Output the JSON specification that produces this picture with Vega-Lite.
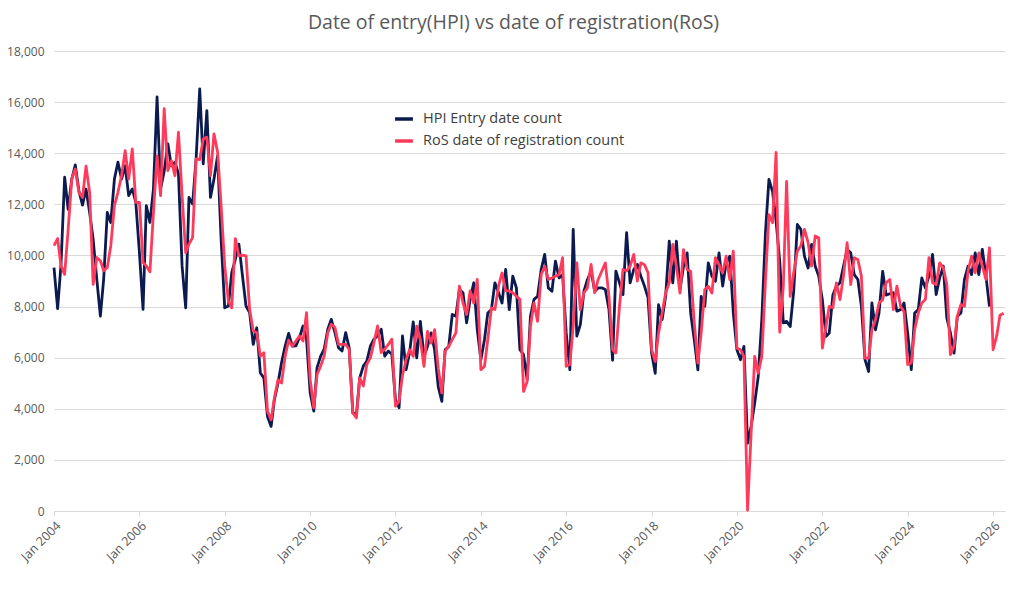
{
  "$schema": "https://vega.github.io/schema/vega-lite/v6.json",
  "width": 951,
  "height": 460,
  "autosize": {"type": "none"},
  "padding": {"left": 54, "top": 51, "right": 22, "bottom": 85},
  "background": "white",
  "config": {"font": "Open Sans", "view": {"stroke": null}},
  "title": {
    "text": "Date of entry(HPI) vs date of registration(RoS)",
    "fontSize": 19.5,
    "fontWeight": "normal",
    "color": "#595959",
    "anchor": "middle",
    "dx": -16,
    "offset": 12
  },
  "data": {
    "values": [
      {"month": "2004-01", "hpi": 9525, "ros": 10380},
      {"month": "2004-02", "hpi": 7916, "ros": 10660},
      {"month": "2004-03", "hpi": 9650, "ros": 9590},
      {"month": "2004-04", "hpi": 13060, "ros": 9260},
      {"month": "2004-05", "hpi": 11800, "ros": 11000},
      {"month": "2004-06", "hpi": 12990, "ros": 13000},
      {"month": "2004-07", "hpi": 13540, "ros": 13380},
      {"month": "2004-08", "hpi": 12530, "ros": 12470},
      {"month": "2004-09", "hpi": 11970, "ros": 12270},
      {"month": "2004-10", "hpi": 12600, "ros": 13490},
      {"month": "2004-11", "hpi": 11680, "ros": 12470},
      {"month": "2004-12", "hpi": 10640, "ros": 8870},
      {"month": "2005-01", "hpi": 9070, "ros": 9920},
      {"month": "2005-02", "hpi": 7630, "ros": 9790},
      {"month": "2005-03", "hpi": 9070, "ros": 9400},
      {"month": "2005-04", "hpi": 11680, "ros": 9530},
      {"month": "2005-05", "hpi": 11290, "ros": 10380},
      {"month": "2005-06", "hpi": 12990, "ros": 11950},
      {"month": "2005-07", "hpi": 13650, "ros": 12470},
      {"month": "2005-08", "hpi": 12990, "ros": 13120},
      {"month": "2005-09", "hpi": 13510, "ros": 14100},
      {"month": "2005-10", "hpi": 12340, "ros": 12990},
      {"month": "2005-11", "hpi": 12600, "ros": 14170},
      {"month": "2005-12", "hpi": 12080, "ros": 12080},
      {"month": "2006-01", "hpi": 10110, "ros": 12080},
      {"month": "2006-02", "hpi": 7890, "ros": 9720},
      {"month": "2006-03", "hpi": 11950, "ros": 9590},
      {"month": "2006-04", "hpi": 11290, "ros": 9360},
      {"month": "2006-05", "hpi": 12600, "ros": 11680},
      {"month": "2006-06", "hpi": 16200, "ros": 13900},
      {"month": "2006-07", "hpi": 12600, "ros": 12340},
      {"month": "2006-08", "hpi": 13300, "ros": 15740},
      {"month": "2006-09", "hpi": 14370, "ros": 13320},
      {"month": "2006-10", "hpi": 13510, "ros": 13710},
      {"month": "2006-11", "hpi": 13650, "ros": 13120},
      {"month": "2006-12", "hpi": 13190, "ros": 14820},
      {"month": "2007-01", "hpi": 9590, "ros": 12340},
      {"month": "2007-02", "hpi": 7950, "ros": 10110},
      {"month": "2007-03", "hpi": 12270, "ros": 10440},
      {"month": "2007-04", "hpi": 12010, "ros": 10700},
      {"month": "2007-05", "hpi": 13780, "ros": 13780},
      {"month": "2007-06", "hpi": 16520, "ros": 13750},
      {"month": "2007-07", "hpi": 13580, "ros": 14560},
      {"month": "2007-08", "hpi": 15670, "ros": 14630},
      {"month": "2007-09", "hpi": 12270, "ros": 13120},
      {"month": "2007-10", "hpi": 12990, "ros": 14760},
      {"month": "2007-11", "hpi": 13900, "ros": 14040},
      {"month": "2007-12", "hpi": 10640, "ros": 11950},
      {"month": "2008-01", "hpi": 7950, "ros": 9590},
      {"month": "2008-02", "hpi": 8020, "ros": 8220},
      {"month": "2008-03", "hpi": 9330, "ros": 7950},
      {"month": "2008-04", "hpi": 9850, "ros": 10660},
      {"month": "2008-05", "hpi": 10440, "ros": 9980},
      {"month": "2008-06", "hpi": 9200, "ros": 10010},
      {"month": "2008-07", "hpi": 8020, "ros": 9980},
      {"month": "2008-08", "hpi": 7760, "ros": 7890},
      {"month": "2008-09", "hpi": 6520, "ros": 7040},
      {"month": "2008-10", "hpi": 7170, "ros": 6980},
      {"month": "2008-11", "hpi": 5400, "ros": 6060},
      {"month": "2008-12", "hpi": 5210, "ros": 6190},
      {"month": "2009-01", "hpi": 3700, "ros": 3900},
      {"month": "2009-02", "hpi": 3310, "ros": 3570},
      {"month": "2009-03", "hpi": 4360, "ros": 4420},
      {"month": "2009-04", "hpi": 5010, "ros": 5140},
      {"month": "2009-05", "hpi": 5800, "ros": 5010},
      {"month": "2009-06", "hpi": 6450, "ros": 6060},
      {"month": "2009-07", "hpi": 6950, "ros": 6680},
      {"month": "2009-08", "hpi": 6450, "ros": 6450},
      {"month": "2009-09", "hpi": 6460, "ros": 6650},
      {"month": "2009-10", "hpi": 6780, "ros": 6850},
      {"month": "2009-11", "hpi": 7240, "ros": 6650},
      {"month": "2009-12", "hpi": 6720, "ros": 7760},
      {"month": "2010-01", "hpi": 4630, "ros": 5150},
      {"month": "2010-02", "hpi": 3910, "ros": 4040},
      {"month": "2010-03", "hpi": 5610, "ros": 5340},
      {"month": "2010-04", "hpi": 6060, "ros": 5670},
      {"month": "2010-05", "hpi": 6330, "ros": 6060},
      {"month": "2010-06", "hpi": 7110, "ros": 6980},
      {"month": "2010-07", "hpi": 7500, "ros": 7310},
      {"month": "2010-08", "hpi": 6980, "ros": 7180},
      {"month": "2010-09", "hpi": 6390, "ros": 6520},
      {"month": "2010-10", "hpi": 6260, "ros": 6520},
      {"month": "2010-11", "hpi": 6980, "ros": 6520},
      {"month": "2010-12", "hpi": 6390, "ros": 6330},
      {"month": "2011-01", "hpi": 3840, "ros": 3840},
      {"month": "2011-02", "hpi": 3770, "ros": 3640},
      {"month": "2011-03", "hpi": 5210, "ros": 5210},
      {"month": "2011-04", "hpi": 5670, "ros": 4890},
      {"month": "2011-05", "hpi": 5870, "ros": 5740},
      {"month": "2011-06", "hpi": 6460, "ros": 6000},
      {"month": "2011-07", "hpi": 6720, "ros": 6590},
      {"month": "2011-08", "hpi": 6850, "ros": 7240},
      {"month": "2011-09", "hpi": 7110, "ros": 6200},
      {"month": "2011-10", "hpi": 6060, "ros": 6330},
      {"month": "2011-11", "hpi": 6260, "ros": 6520},
      {"month": "2011-12", "hpi": 6130, "ros": 6720},
      {"month": "2012-01", "hpi": 4360, "ros": 4100},
      {"month": "2012-02", "hpi": 4040, "ros": 4300},
      {"month": "2012-03", "hpi": 6850, "ros": 5300},
      {"month": "2012-04", "hpi": 5530, "ros": 5920},
      {"month": "2012-05", "hpi": 6200, "ros": 6310},
      {"month": "2012-06", "hpi": 7400, "ros": 6050},
      {"month": "2012-07", "hpi": 5990, "ros": 7230},
      {"month": "2012-08", "hpi": 7420, "ros": 6710},
      {"month": "2012-09", "hpi": 6050, "ros": 5660},
      {"month": "2012-10", "hpi": 6440, "ros": 7030},
      {"month": "2012-11", "hpi": 6970, "ros": 6570},
      {"month": "2012-12", "hpi": 6310, "ros": 7100},
      {"month": "2013-01", "hpi": 4870, "ros": 5590},
      {"month": "2013-02", "hpi": 4290, "ros": 4620},
      {"month": "2013-03", "hpi": 6310, "ros": 6250},
      {"month": "2013-04", "hpi": 6440, "ros": 6440},
      {"month": "2013-05", "hpi": 7690, "ros": 6710},
      {"month": "2013-06", "hpi": 7620, "ros": 6970},
      {"month": "2013-07", "hpi": 8670, "ros": 8800},
      {"month": "2013-08", "hpi": 8540, "ros": 8140},
      {"month": "2013-09", "hpi": 7360, "ros": 7690},
      {"month": "2013-10", "hpi": 8280, "ros": 8610},
      {"month": "2013-11", "hpi": 8930, "ros": 8140},
      {"month": "2013-12", "hpi": 7100, "ros": 9060},
      {"month": "2014-01", "hpi": 5920, "ros": 5530},
      {"month": "2014-02", "hpi": 6710, "ros": 5660},
      {"month": "2014-03", "hpi": 7750, "ros": 6710},
      {"month": "2014-04", "hpi": 7880, "ros": 7950},
      {"month": "2014-05", "hpi": 8930, "ros": 7880},
      {"month": "2014-06", "hpi": 8540, "ros": 8800},
      {"month": "2014-07", "hpi": 8140, "ros": 9320},
      {"month": "2014-08", "hpi": 9450, "ros": 8610},
      {"month": "2014-09", "hpi": 7880, "ros": 8610},
      {"month": "2014-10", "hpi": 9190, "ros": 8540},
      {"month": "2014-11", "hpi": 8730, "ros": 8400},
      {"month": "2014-12", "hpi": 6310, "ros": 8280},
      {"month": "2015-01", "hpi": 6120, "ros": 4680},
      {"month": "2015-02", "hpi": 5140, "ros": 5070},
      {"month": "2015-03", "hpi": 7620, "ros": 7230},
      {"month": "2015-04", "hpi": 8280, "ros": 8140},
      {"month": "2015-05", "hpi": 8400, "ros": 7420},
      {"month": "2015-06", "hpi": 9450, "ros": 9250},
      {"month": "2015-07", "hpi": 10040, "ros": 9580},
      {"month": "2015-08", "hpi": 8730, "ros": 9060},
      {"month": "2015-09", "hpi": 8600, "ros": 9120},
      {"month": "2015-10", "hpi": 9780, "ros": 9190},
      {"month": "2015-11", "hpi": 9120, "ros": 9250},
      {"month": "2015-12", "hpi": 9250, "ros": 9910},
      {"month": "2016-01", "hpi": 6970, "ros": 5660},
      {"month": "2016-02", "hpi": 5530, "ros": 5730},
      {"month": "2016-03", "hpi": 11020, "ros": 7230},
      {"month": "2016-04", "hpi": 6840, "ros": 9710},
      {"month": "2016-05", "hpi": 7290, "ros": 7880},
      {"month": "2016-06", "hpi": 8600, "ros": 8540},
      {"month": "2016-07", "hpi": 9060, "ros": 8730},
      {"month": "2016-08", "hpi": 9390, "ros": 9650},
      {"month": "2016-09", "hpi": 8600, "ros": 8540},
      {"month": "2016-10", "hpi": 8730, "ros": 9060},
      {"month": "2016-11", "hpi": 8730, "ros": 9390},
      {"month": "2016-12", "hpi": 8670, "ros": 9710},
      {"month": "2017-01", "hpi": 7880, "ros": 8400},
      {"month": "2017-02", "hpi": 5900, "ros": 6310},
      {"month": "2017-03", "hpi": 9390, "ros": 6180},
      {"month": "2017-04", "hpi": 8930, "ros": 8010},
      {"month": "2017-05", "hpi": 8470, "ros": 9450},
      {"month": "2017-06", "hpi": 10890, "ros": 9390},
      {"month": "2017-07", "hpi": 8930, "ros": 9580},
      {"month": "2017-08", "hpi": 9450, "ros": 10040},
      {"month": "2017-09", "hpi": 9650, "ros": 9000},
      {"month": "2017-10", "hpi": 9190, "ros": 9710},
      {"month": "2017-11", "hpi": 8800, "ros": 9640},
      {"month": "2017-12", "hpi": 8350, "ros": 9320},
      {"month": "2018-01", "hpi": 6180, "ros": 6310},
      {"month": "2018-02", "hpi": 5390, "ros": 5850},
      {"month": "2018-03", "hpi": 8070, "ros": 6960},
      {"month": "2018-04", "hpi": 7490, "ros": 7750},
      {"month": "2018-05", "hpi": 8400, "ros": 8530},
      {"month": "2018-06", "hpi": 10560, "ros": 8930},
      {"month": "2018-07", "hpi": 8930, "ros": 10430},
      {"month": "2018-08", "hpi": 10560, "ros": 9580},
      {"month": "2018-09", "hpi": 8670, "ros": 8530},
      {"month": "2018-10", "hpi": 9580, "ros": 10230},
      {"month": "2018-11", "hpi": 10100, "ros": 9450},
      {"month": "2018-12", "hpi": 7750, "ros": 9380},
      {"month": "2019-01", "hpi": 6700, "ros": 7360},
      {"month": "2019-02", "hpi": 5520, "ros": 5790},
      {"month": "2019-03", "hpi": 8400, "ros": 6960},
      {"month": "2019-04", "hpi": 8010, "ros": 8670},
      {"month": "2019-05", "hpi": 9710, "ros": 8800},
      {"month": "2019-06", "hpi": 9190, "ros": 8530},
      {"month": "2019-07", "hpi": 8990, "ros": 9910},
      {"month": "2019-08", "hpi": 10100, "ros": 9640},
      {"month": "2019-09", "hpi": 8800, "ros": 9320},
      {"month": "2019-10", "hpi": 9710, "ros": 9970},
      {"month": "2019-11", "hpi": 9970, "ros": 9060},
      {"month": "2019-12", "hpi": 7750, "ros": 10170},
      {"month": "2020-01", "hpi": 6310, "ros": 6370},
      {"month": "2020-02", "hpi": 5920, "ros": 6310},
      {"month": "2020-03", "hpi": 6440, "ros": 6050},
      {"month": "2020-04", "hpi": 2650, "ros": 30},
      {"month": "2020-05", "hpi": 3300, "ros": 3000},
      {"month": "2020-06", "hpi": 4220, "ros": 6050},
      {"month": "2020-07", "hpi": 5250, "ros": 5390},
      {"month": "2020-08", "hpi": 7500, "ros": 6050},
      {"month": "2020-09", "hpi": 10890, "ros": 9000},
      {"month": "2020-10", "hpi": 12980, "ros": 11600},
      {"month": "2020-11", "hpi": 12500, "ros": 11280},
      {"month": "2020-12", "hpi": 11340, "ros": 14030},
      {"month": "2021-01", "hpi": 9800, "ros": 7000},
      {"month": "2021-02", "hpi": 7360, "ros": 8800},
      {"month": "2021-03", "hpi": 7420, "ros": 12900},
      {"month": "2021-04", "hpi": 7220, "ros": 8400},
      {"month": "2021-05", "hpi": 8600, "ros": 9320},
      {"month": "2021-06", "hpi": 11210, "ros": 10170},
      {"month": "2021-07", "hpi": 11020, "ros": 10370},
      {"month": "2021-08", "hpi": 9970, "ros": 11020},
      {"month": "2021-09", "hpi": 9510, "ros": 10500},
      {"month": "2021-10", "hpi": 10430, "ros": 9580},
      {"month": "2021-11", "hpi": 9580, "ros": 10760},
      {"month": "2021-12", "hpi": 9190, "ros": 10690},
      {"month": "2022-01", "hpi": 8270, "ros": 6370},
      {"month": "2022-02", "hpi": 6830, "ros": 7220},
      {"month": "2022-03", "hpi": 6960, "ros": 8010},
      {"month": "2022-04", "hpi": 8450, "ros": 7950},
      {"month": "2022-05", "hpi": 8800, "ros": 8930},
      {"month": "2022-06", "hpi": 8930, "ros": 8270},
      {"month": "2022-07", "hpi": 9580, "ros": 9190},
      {"month": "2022-08", "hpi": 10230, "ros": 10500},
      {"month": "2022-09", "hpi": 10100, "ros": 8860},
      {"month": "2022-10", "hpi": 9250, "ros": 9910},
      {"month": "2022-11", "hpi": 9060, "ros": 9840},
      {"month": "2022-12", "hpi": 8010, "ros": 9190},
      {"month": "2023-01", "hpi": 5920, "ros": 5980},
      {"month": "2023-02", "hpi": 5460, "ros": 5980},
      {"month": "2023-03", "hpi": 8140, "ros": 7090},
      {"month": "2023-04", "hpi": 7090, "ros": 7490},
      {"month": "2023-05", "hpi": 7750, "ros": 8140},
      {"month": "2023-06", "hpi": 9380, "ros": 8270},
      {"month": "2023-07", "hpi": 8450, "ros": 8930},
      {"month": "2023-08", "hpi": 8500, "ros": 9060},
      {"month": "2023-09", "hpi": 8540, "ros": 7880},
      {"month": "2023-10", "hpi": 7820, "ros": 8800},
      {"month": "2023-11", "hpi": 7880, "ros": 8010},
      {"month": "2023-12", "hpi": 8140, "ros": 7800},
      {"month": "2024-01", "hpi": 6970, "ros": 5730},
      {"month": "2024-02", "hpi": 5530, "ros": 5790},
      {"month": "2024-03", "hpi": 7750, "ros": 7100},
      {"month": "2024-04", "hpi": 7880, "ros": 7750},
      {"month": "2024-05", "hpi": 9120, "ros": 8140},
      {"month": "2024-06", "hpi": 8730, "ros": 8280},
      {"month": "2024-07", "hpi": 9190, "ros": 9910},
      {"month": "2024-08", "hpi": 10040, "ros": 8930},
      {"month": "2024-09", "hpi": 8470, "ros": 8860},
      {"month": "2024-10", "hpi": 9120, "ros": 9710},
      {"month": "2024-11", "hpi": 9580, "ros": 9520},
      {"month": "2024-12", "hpi": 7560, "ros": 8860},
      {"month": "2025-01", "hpi": 6970, "ros": 6120},
      {"month": "2025-02", "hpi": 6180, "ros": 6440},
      {"month": "2025-03", "hpi": 7620, "ros": 7620},
      {"month": "2025-04", "hpi": 7750, "ros": 8080},
      {"month": "2025-05", "hpi": 9060, "ros": 8010},
      {"month": "2025-06", "hpi": 9580, "ros": 9390},
      {"month": "2025-07", "hpi": 9250, "ros": 9970},
      {"month": "2025-08", "hpi": 10100, "ros": 9320},
      {"month": "2025-09", "hpi": 9250, "ros": 10100},
      {"month": "2025-10", "hpi": 10240, "ros": 9580},
      {"month": "2025-11", "hpi": 9190, "ros": 9060},
      {"month": "2025-12", "hpi": 8000, "ros": 10300},
      {"month": "2026-01", "ros": 6310},
      {"month": "2026-02", "ros": 6850},
      {"month": "2026-03", "ros": 7660},
      {"month": "2026-04", "ros": 7740}
    ]
  },
  "transform": [{"fold": ["hpi", "ros"], "as": ["series", "count"]}],
  "mark": {"type": "line", "strokeWidth": 2.8, "strokeJoin": "round"},
  "encoding": {
    "x": {
      "field": "month",
      "type": "temporal",
      "scale": {
        "type": "utc",
        "domain": [
          {"year": 2004, "month": 1, "date": 1, "utc": true},
          {"year": 2026, "month": 4, "date": 13, "utc": true}
        ]
      },
      "axis": {
        "title": null,
        "values": [
          {"year": 2004, "month": 1, "date": 1, "utc": true},
          {"year": 2006, "month": 1, "date": 1, "utc": true},
          {"year": 2008, "month": 1, "date": 1, "utc": true},
          {"year": 2010, "month": 1, "date": 1, "utc": true},
          {"year": 2012, "month": 1, "date": 1, "utc": true},
          {"year": 2014, "month": 1, "date": 1, "utc": true},
          {"year": 2016, "month": 1, "date": 1, "utc": true},
          {"year": 2018, "month": 1, "date": 1, "utc": true},
          {"year": 2020, "month": 1, "date": 1, "utc": true},
          {"year": 2022, "month": 1, "date": 1, "utc": true},
          {"year": 2024, "month": 1, "date": 1, "utc": true},
          {"year": 2026, "month": 1, "date": 1, "utc": true}
        ],
        "labelExpr": "utcFormat(datum.value, '%b %Y')",
        "labelAngle": -45,
        "labelFontSize": 12.5,
        "labelColor": "#595959",
        "labelPadding": 3,
        "labelOverlap": false,
        "labelFlush": false,
        "grid": false,
        "domainColor": "#d9d9d9",
        "tickColor": "#d9d9d9",
        "tickSize": 5
      }
    },
    "y": {
      "field": "count",
      "type": "quantitative",
      "scale": {"domain": [0, 18000]},
      "axis": {
        "title": null,
        "values": [0, 2000, 4000, 6000, 8000, 10000, 12000, 14000, 16000, 18000],
        "format": ",.0f",
        "domain": false,
        "ticks": false,
        "gridColor": "#d9d9d9",
        "labelFontSize": 12,
        "labelColor": "#595959",
        "labelPadding": 10
      }
    },
    "color": {
      "field": "series",
      "type": "nominal",
      "scale": {"domain": ["hpi", "ros"], "range": ["#0b1a4f", "#ff3b5c"]},
      "legend": {
        "title": null,
        "orient": "none",
        "legendX": 339,
        "legendY": 57,
        "symbolType": "stroke",
        "symbolStrokeWidth": 3.5,
        "symbolSize": 320,
        "labelFontSize": 14.5,
        "labelColor": "#404040",
        "labelLimit": 400,
        "labelOffset": 8,
        "rowPadding": 4,
        "labelExpr": "datum.value == 'hpi' ? 'HPI Entry date count' : 'RoS date of registration count'"
      }
    }
  }
}
